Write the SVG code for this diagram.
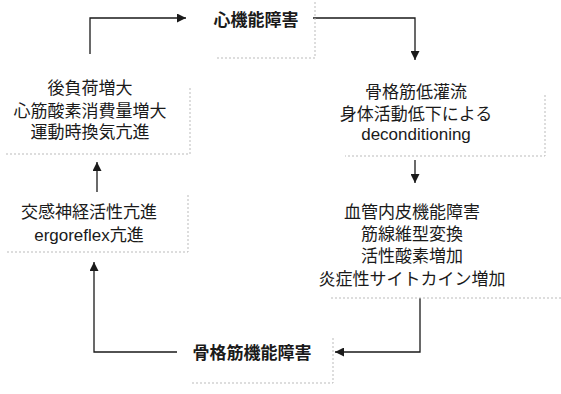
<svg xmlns="http://www.w3.org/2000/svg" width="561" height="394" viewBox="0 0 561 394">
<defs>
<marker id="ah" viewBox="0 0 10 10" refX="10" refY="5" markerWidth="9" markerHeight="9" markerUnits="userSpaceOnUse" orient="auto"><path d="M0,0 L10,5 L0,10 z" fill="#1a1a1a"/></marker>
</defs>
<style>
text{font-family:"Liberation Sans","Noto Sans CJK JP",sans-serif;font-size:17px;fill:#1a1a1a;text-anchor:middle}
.b{font-weight:bold}
.sh{fill:none;stroke:#bbb;stroke-width:1;stroke-dasharray:2 2}
.c{fill:none;stroke:#1a1a1a;stroke-width:1.3;marker-end:url(#ah)}
</style>
<rect width="561" height="394" fill="#fff"/>
<g id="connectors">
<path class="c" d="M90,54 V18 H186"/>
<path class="c" d="M313,18 H415 V60"/>
<path class="c" d="M415,160 V183"/>
<path class="c" d="M97,192 V162"/>
<path class="c" d="M177,352 H94 V262"/>
<path class="c" d="M420,298 V352 H335"/>
</g>
<g id="n-heart">
<path class="sh" d="M315,2 V58 H215"/>
<text class="b" x="256" y="26">心機能障害</text>
</g>
<g id="n-afterload">
<path class="sh" d="M190,88 V154 H5"/>
<text x="90" y="94">後負荷増大</text>
<text x="90" y="117">心筋酸素消費量増大</text>
<text x="90" y="138">運動時換気亢進</text>
</g>
<g id="n-hypoperfusion">
<path class="sh" d="M545,95 V156 H345"/>
<text x="416" y="98">骨格筋低灌流</text>
<text x="416" y="120">身体活動低下による</text>
<text x="416" y="140">deconditioning</text>
</g>
<g id="n-sympathetic">
<path class="sh" d="M188,195 V252 H5"/>
<text x="89" y="218">交感神経活性亢進</text>
<text x="89" y="241">ergoreflex亢進</text>
</g>
<g id="n-endothelial">
<path class="sh" d="M561,298 H330"/>
<text x="412" y="218">血管内皮機能障害</text>
<text x="412" y="240">筋線維型変換</text>
<text x="412" y="262">活性酸素増加</text>
<text x="412" y="285">炎症性サイトカイン増加</text>
</g>
<g id="n-muscle">
<path class="sh" d="M333,338 V383 H190"/>
<text class="b" x="252" y="359">骨格筋機能障害</text>
</g>
</svg>
